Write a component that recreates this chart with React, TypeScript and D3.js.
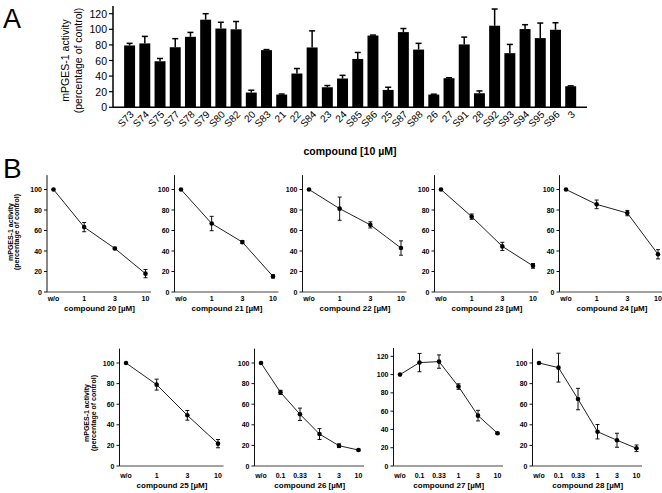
import React from 'react';
import * as d3 from 'd3';

// ---------- Panel A data ----------
const categoriesA = ['S73','S74','S75','S77','S78','S79','S80','S82','20','S83','21','22','S84','23','24','S85','S86','25','S87','S88','26','27','S91','28','S92','S93','S94','S95','S96','3'];
const valuesA = [79.3, 81.9, 59, 77, 90.4, 112.3, 101, 100, 18.9, 73.3, 16.3, 43.3, 76.7, 25.7, 36.9, 62, 92, 22.3, 96.4, 74, 16.3, 37.3, 80.6, 18, 104.6, 69.4, 100.3, 88.7, 99.4, 27];
const errorsA = [2.7, 9, 3.6, 11, 5.6, 7.7, 8, 10, 3, 0.7, 0.7, 6.4, 21.3, 2.2, 4.1, 8.3, 0.6, 3.4, 4.6, 8, 0.5, 0.6, 9.4, 3, 21.4, 11.2, 5.6, 19.3, 9, 0.5];
const ticksA = [0, 20, 40, 60, 80, 100, 120];

// ---------- Panel B data ----------
const doses4 = ['w/o', '1', '3', '10'];
const doses6 = ['w/o', '0.1', '0.33', '1', '3', '10'];
const ticksB = [0, 20, 40, 60, 80, 100];
const ticksB27 = [0, 20, 40, 60, 80, 100, 120];

const values20 = [100, 63.3, 42.5, 17.9];
const errors20 = [0, 4.5, 1.2, 4];
const values21 = [100, 66.8, 48.7, 15.2];
const errors21 = [0, 7, 1.5, 1.5];
const values22 = [100, 81.3, 65.5, 42.9];
const errors22 = [0, 11.3, 3, 7];
const values23 = [100, 73.5, 44.5, 25.5];
const errors23 = [0, 2.6, 4, 2.3];
const values24 = [100, 85.5, 77, 36.8];
const errors24 = [0, 4.2, 2.6, 4.5];
const values25 = [100, 79, 49.2, 21.7];
const errors25 = [0, 5.3, 4.7, 4];
const values26 = [100, 71.5, 50.2, 31, 19.7, 15.5];
const errors26 = [0, 2, 6, 5.3, 1.8, 0.8];
const values27 = [100, 113.1, 114.2, 86.9, 55.1, 35.8];
const errors27 = [0, 10, 7.3, 3, 5.8, 1];
const values28 = [100, 95.5, 65, 33.3, 25, 17.2];
const errors28 = [0, 14, 10.4, 7, 6.8, 3.2];

const FONT = '"Liberation Sans", Arial, Helvetica, sans-serif';

type Sub = {
  name: string; doses: string[]; values: number[]; errors: number[];
  ticks: number[]; axisX: number; row: number; yLabelX: number[] | null;
};

const subplots: Sub[] = [
  { name: '20', doses: doses4, values: values20, errors: errors20, ticks: ticksB, axisX: 47, row: 0, yLabelX: [10, 16.5] },
  { name: '21', doses: doses4, values: values21, errors: errors21, ticks: ticksB, axisX: 174.5, row: 0, yLabelX: null },
  { name: '22', doses: doses4, values: values22, errors: errors22, ticks: ticksB, axisX: 302.5, row: 0, yLabelX: null },
  { name: '23', doses: doses4, values: values23, errors: errors23, ticks: ticksB, axisX: 434.5, row: 0, yLabelX: null },
  { name: '24', doses: doses4, values: values24, errors: errors24, ticks: ticksB, axisX: 559.5, row: 0, yLabelX: null },
  { name: '25', doses: doses4, values: values25, errors: errors25, ticks: ticksB, axisX: 119.5, row: 1, yLabelX: [86, 93.5] },
  { name: '26', doses: doses6, values: values26, errors: errors26, ticks: ticksB, axisX: 254.5, row: 1, yLabelX: null },
  { name: '27', doses: doses6, values: values27, errors: errors27, ticks: ticksB27, axisX: 393.5, row: 1, yLabelX: null },
  { name: '28', doses: doses6, values: values28, errors: errors28, ticks: ticksB, axisX: 532.5, row: 1, yLabelX: null },
];

function PanelA() {
  const x = d3.scaleBand<string>().domain(categoriesA).range([122, 578.3]).paddingInner(0.28).paddingOuter(0.14);
  const y = d3.scaleLinear().domain([0, 120]).range([107.3, 13.7]);
  const axisX = 113;
  const bw = x.bandwidth();
  return (
    <g>
      <text x={3} y={28} fontSize={27} fontFamily={FONT}>A</text>
      {categoriesA.map((c, i) => {
        const cx = (x(c) as number) + bw / 2;
        const top = y(valuesA[i]);
        const et = y(valuesA[i] + errorsA[i]);
        return (
          <g key={c}>
            <rect x={x(c)} y={top} width={bw} height={y(0) - top} fill="#000" />
            <line x1={cx} x2={cx} y1={top} y2={et} stroke="#000" strokeWidth={1.5} />
            <line x1={cx - 3} x2={cx + 3} y1={et} y2={et} stroke="#000" strokeWidth={1.5} />
            <text transform={`translate(${cx + 3},${y(0) + 6}) rotate(-45)`} textAnchor="end" dominantBaseline="middle" fontSize={10} fontFamily={FONT}>{c}</text>
          </g>
        );
      })}
      <line x1={axisX} x2={axisX} y1={y(130)} y2={y(0)} stroke="#000" strokeWidth={1.5} />
      <line x1={axisX} x2={587} y1={y(0)} y2={y(0)} stroke="#000" strokeWidth={1.5} />
      {ticksA.map(t => (
        <g key={t}>
          <line x1={axisX - 4} x2={axisX} y1={y(t)} y2={y(t)} stroke="#000" strokeWidth={1.2} />
          <text x={axisX - 6} y={y(t)} textAnchor="end" dominantBaseline="central" fontSize={10.5} fontFamily={FONT}>{t}</text>
        </g>
      ))}
      <text transform={`translate(65,${y(60)}) rotate(-90)`} textAnchor="middle" dominantBaseline="central" fontSize={10.5} fontFamily={FONT}>mPGES-1 activity</text>
      <text transform={`translate(77.5,${y(60)}) rotate(-90)`} textAnchor="middle" dominantBaseline="central" fontSize={10.5} fontFamily={FONT}>(percentage of control)</text>
      <text x={350} y={151} textAnchor="middle" dominantBaseline="central" fontSize={10.5} fontWeight="bold" fontFamily={FONT}>compound [10 µM]</text>
    </g>
  );
}

function SubPlot({ s }: { s: Sub }) {
  const y0 = s.row === 0 ? 292 : 466;
  const y100 = s.row === 0 ? 189.5 : 363;
  const is120 = s.ticks[s.ticks.length - 1] === 120;
  const topV = is120 ? 129 : 114;
  const y = is120
    ? d3.scaleLinear().domain([0, 120]).range([y0, 356.3])
    : d3.scaleLinear().domain([0, 100]).range([y0, y100]);
  const span = s.doses.length === 4 ? 92 : 97.5;
  const x = d3.scalePoint<string>().domain(s.doses).range([s.axisX + 6.5, s.axisX + 6.5 + span]);
  const line = d3.line<number>().x((_, i) => x(s.doses[i]) as number).y(v => y(v));
  const labelOff = s.row === 0 ? 6.5 : 9;
  const titleOff = s.row === 0 ? 16 : 19;
  const midX = s.axisX + 6.5 + span / 2;
  const midY = s.row === 0 ? 232 : 413;
  return (
    <g>
      <line x1={s.axisX} x2={s.axisX} y1={y(topV)} y2={y0} stroke="#111" strokeWidth={1} />
      <line x1={s.axisX} x2={s.axisX + span + 12} y1={y0} y2={y0} stroke="#444" strokeWidth={1} />
      {s.ticks.map(t => (
        <g key={t}>
          <line x1={s.axisX - 3} x2={s.axisX} y1={y(t)} y2={y(t)} stroke="#111" strokeWidth={1} />
          <text x={s.axisX - 5} y={y(t)} textAnchor="end" dominantBaseline="central" fontSize={7} fontWeight="bold" fontFamily={FONT}>{t}</text>
        </g>
      ))}
      <path d={line(s.values) || ''} fill="none" stroke="#222" strokeWidth={1} />
      {s.values.map((v, i) => {
        const cx = x(s.doses[i]) as number;
        const e = s.errors[i];
        return (
          <g key={i}>
            {e > 0 && (
              <g stroke="#111" strokeWidth={1}>
                <line x1={cx} x2={cx} y1={y(v - e)} y2={y(v + e)} />
                <line x1={cx - 2} x2={cx + 2} y1={y(v - e)} y2={y(v - e)} />
                <line x1={cx - 2} x2={cx + 2} y1={y(v + e)} y2={y(v + e)} />
              </g>
            )}
            <circle cx={cx} cy={y(v)} r={2.3} fill="#000" />
          </g>
        );
      })}
      {s.doses.map(d => (
        <text key={d} x={x(d)} y={y0 + labelOff} textAnchor="middle" dominantBaseline="central" fontSize={7} fontWeight="bold" fontFamily={FONT}>{d}</text>
      ))}
      <text x={midX} y={y0 + titleOff} textAnchor="middle" dominantBaseline="central" fontSize={8} fontWeight="bold" fontFamily={FONT}>{`compound ${s.name} [µM]`}</text>
      {s.yLabelX && (
        <g>
          <text transform={`translate(${s.yLabelX[0]},${midY}) rotate(-90)`} textAnchor="middle" dominantBaseline="central" fontSize={7} fontWeight="bold" fontFamily={FONT}>mPGES-1 activity</text>
          <text transform={`translate(${s.yLabelX[1]},${midY}) rotate(-90)`} textAnchor="middle" dominantBaseline="central" fontSize={7} fontWeight="bold" fontFamily={FONT}>(percentage of control)</text>
        </g>
      )}
    </g>
  );
}

export default function App() {
  return (
    <svg width={662} height={493} style={{ position: 'absolute', left: 0, top: 0, background: '#fff' }}>
      <rect width={662} height={493} fill="#fff" />
      <PanelA />
      <text x={3} y={177.5} fontSize={28} fontFamily={FONT}>B</text>
      {subplots.map(s => <SubPlot key={s.name} s={s} />)}
    </svg>
  );
}
